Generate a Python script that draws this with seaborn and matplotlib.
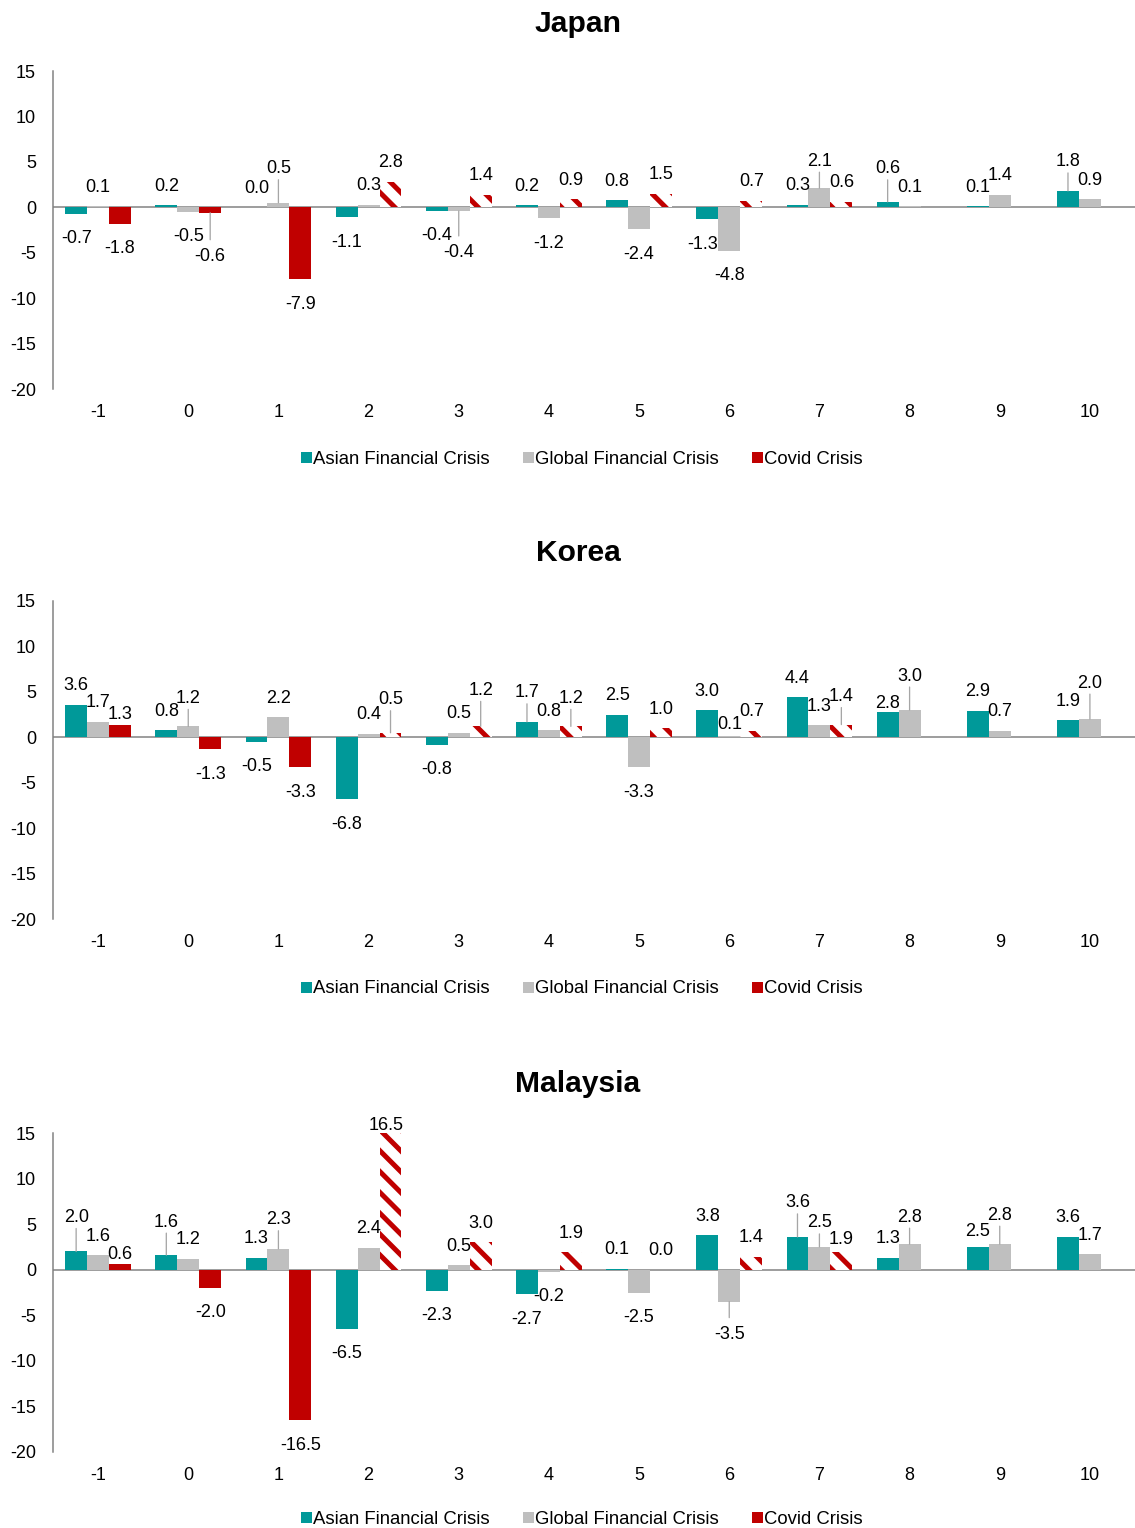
import numpy as np
import pandas as pd
import seaborn as sns
import matplotlib.pyplot as plt
from matplotlib.lines import Line2D

DPI = 125
W, H = 1135, 1528


def pt(px):
    # pixel size -> points at the output dpi
    return px * 72 / DPI


years = [-1, 0, 1, 2, 3, 4, 5, 6, 7, 8, 9, 10]
series = ["Asian Financial Crisis", "Global Financial Crisis", "Covid Crisis"]
colors = ["#009999", "#BFBFBF", "#C00000"]
forecast_years = [2, 3, 4, 5, 6, 7]

japan_afc = [-0.7, 0.2, 0.0, -1.1, -0.4, 0.2, 0.8, -1.3, 0.3, 0.6, 0.1, 1.8]
japan_gfc = [0.1, -0.5, 0.5, 0.3, -0.4, -1.2, -2.4, -4.8, 2.1, 0.1, 1.4, 0.9]
japan_covid = [-1.8, -0.6, -7.9, 2.8, 1.4, 0.9, 1.5, 0.7, 0.6, np.nan, np.nan, np.nan]

korea_afc = [3.6, 0.8, -0.5, -6.8, -0.8, 1.7, 2.5, 3.0, 4.4, 2.8, 2.9, 1.9]
korea_gfc = [1.7, 1.2, 2.2, 0.4, 0.5, 0.8, -3.3, 0.1, 1.3, 3.0, 0.7, 2.0]
korea_covid = [1.3, -1.3, -3.3, 0.5, 1.2, 1.2, 1.0, 0.7, 1.4, np.nan, np.nan, np.nan]

malaysia_afc = [2.0, 1.6, 1.3, -6.5, -2.3, -2.7, 0.1, 3.8, 3.6, 1.3, 2.5, 3.6]
malaysia_gfc = [1.6, 1.2, 2.3, 2.4, 0.5, -0.2, -2.5, -3.5, 2.5, 2.8, 2.8, 1.7]
malaysia_covid = [0.6, -2.0, -16.5, 16.5, 3.0, 1.9, 0.0, 1.4, 1.9, np.nan, np.nan, np.nan]

# labels that were dragged away from the default spot: (dx px, extra distance px)
label_moves = {
    ("Japan", 2, 0): (0, 19),
    ("Japan", 1, 1): (0, 15),
    ("Japan", 1, 3): (0, 17),
    ("Japan", 0, 6): (-5, 0),
    ("Japan", 1, 7): (0, 8),
    ("Japan", 0, 8): (0, 14),
    ("Japan", 0, 10): (0, 10),
    ("Korea", 2, -1): (0, -8),
    ("Korea", 1, 0): (0, 9),
    ("Korea", 2, 2): (0, 14),
    ("Korea", 2, 3): (0, 17),
    ("Korea", 0, 4): (0, 10),
    ("Korea", 2, 4): (0, 9),
    ("Korea", 1, 6): (0, -7),
    ("Korea", 2, 7): (0, 9),
    ("Korea", 0, 8): (0, -11),
    ("Korea", 1, 8): (0, 15),
    ("Korea", 1, 10): (0, 17),
    ("Malaysia", 0, -1): (0, 15),
    ("Malaysia", 2, -1): (0, -9),
    ("Malaysia", 0, 0): (0, 14),
    ("Malaysia", 1, 1): (0, 10),
    ("Malaysia", 2, 2): (-4, -12),
    ("Malaysia", 1, 6): (0, 8),
    ("Malaysia", 0, 7): (0, 15),
    ("Malaysia", 1, 7): (0, 5),
    ("Malaysia", 2, 7): (0, -6),
    ("Malaysia", 1, 8): (0, 8),
    ("Malaysia", 0, 9): (0, -4),
    ("Malaysia", 1, 9): (0, 10),
}

panels = [
    ("Japan", japan_afc, japan_gfc, japan_covid, 22, 71, 389, 457),
    ("Korea", korea_afc, korea_gfc, korea_covid, 551, 601, 919, 987),
    ("Malaysia", malaysia_afc, malaysia_gfc, malaysia_covid, 1082, 1133, 1452, 1517),
]

sns.set_style("white")
plt.rcParams["font.family"] = ["Liberation Sans", "DejaVu Sans"]
plt.rcParams["axes.unicode_minus"] = False
plt.rcParams["hatch.linewidth"] = pt(5)
plt.rcParams["text.color"] = "black"
plt.rcParams["xtick.color"] = "black"
plt.rcParams["ytick.color"] = "black"

fig = plt.figure(figsize=(W / DPI, H / DPI), dpi=DPI)
left = 53 / W
label_px = 18

for name, afc, gfc, covid, title_y, top, bottom, leg_y in panels:
    df = pd.DataFrame({
        "year": years * 3,
        "value": afc + gfc + covid,
        "series": [s for s in series for _ in years],
    })
    ax = fig.add_axes([left, 1 - bottom / H, 1 - left, (bottom - top) / H])
    ax.axhline(0, color="#808080", lw=pt(1.5), zorder=0.5)
    sns.barplot(data=df, x="year", y="value", hue="series", order=years,
                hue_order=series, palette=colors, saturation=1, width=0.73,
                errorbar=None, legend=False, linewidth=0, ax=ax)
    ax.set_ylim(-20, 15)
    ax.set_xlim(-0.5, len(years) - 0.5)
    ax.set_yticks(range(-20, 16, 5))
    ax.set_xlabel("")
    ax.set_ylabel("")
    ax.tick_params(axis="y", length=0, pad=pt(17), labelsize=pt(label_px))
    ax.tick_params(axis="x", length=0, pad=pt(15), labelsize=pt(label_px))
    for s in ["top", "right", "bottom"]:
        ax.spines[s].set_visible(False)
    ax.spines["left"].set_color("#808080")
    ax.spines["left"].set_linewidth(pt(1.5))

    for k, cont in enumerate(ax.containers):
        for bar in cont:
            v = bar.get_height()
            if np.isnan(v):
                continue
            xc = bar.get_x() + bar.get_width() / 2
            yr = years[int(round(xc))]
            if k == 2 and yr in forecast_years:
                bar.set_facecolor("white")
                bar.set_edgecolor(colors[2])
                bar.set_hatch("\\\\")
                bar.set_linewidth(0)
            sign = 1 if v >= 0 else -1
            anchor = min(max(v, -20), 15)
            dx, extra = label_moves.get((name, k, yr), (0, 0))
            if extra >= 4:
                ax.annotate("", xy=(xc, anchor), xytext=(0, pt(sign * (22 + extra - 14))),
                            textcoords="offset points", annotation_clip=False,
                            arrowprops=dict(arrowstyle="-", color="#A6A6A6", lw=pt(1.3),
                                            shrinkA=0, shrinkB=0))
            ax.annotate(f"{v:.1f}", xy=(xc, anchor),
                        xytext=(pt(dx), pt(sign * (22 + extra) - 3)),
                        textcoords="offset points", ha="center", va="center",
                        fontsize=pt(label_px), annotation_clip=False)

    fig.text(578 / W, 1 - (title_y + 2) / H, name, ha="center", va="center",
             fontsize=pt(30), fontweight="bold")

    handles = [Line2D([], [], marker="s", ls="none", markersize=pt(11),
                      markerfacecolor=c, markeredgewidth=0, label=s)
               for s, c in zip(series, colors)]
    fig.legend(handles=handles, loc="center", bbox_to_anchor=(582 / W, 1 - (leg_y + 2) / H),
               ncol=3, frameon=False, fontsize=pt(18.5), handlelength=0.5,
               handletextpad=0.15, columnspacing=1.8, borderpad=0)

fig.savefig("out.png", dpi=DPI)
